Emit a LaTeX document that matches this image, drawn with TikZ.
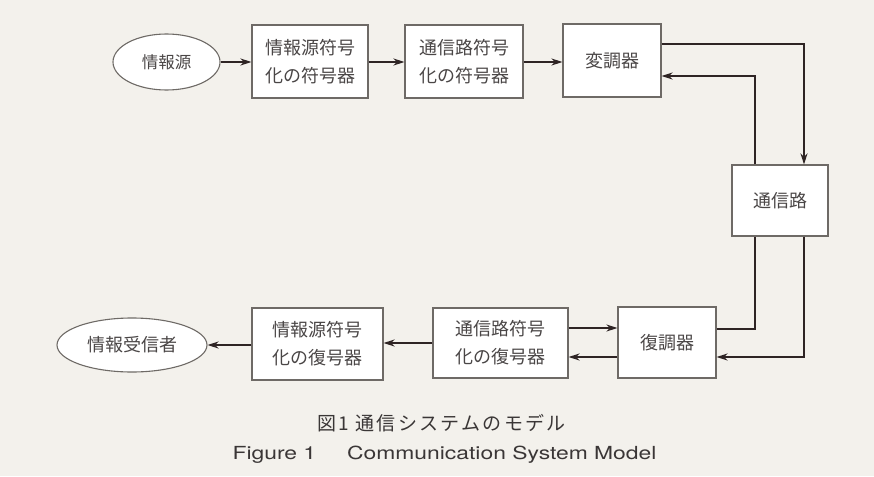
\documentclass[tikz,border=0pt]{standalone}
\usepackage{fontspec}
\setmainfont{TeX Gyre Heros}
\newfontfamily\jp{Noto Sans CJK JP}
\newfontfamily\jpcap[LetterSpace=12]{Noto Sans CJK JP}
\newfontfamily\capfont[FakeStretch=1.27]{TeX Gyre Heros}
\usetikzlibrary{arrows.meta,shapes.geometric}
\definecolor{bgcol}{HTML}{F3F1EC}
\definecolor{edgecol}{HTML}{6E6A66}
\definecolor{wirecol}{HTML}{2E2424}
\definecolor{txtcol}{HTML}{4A4646}
\definecolor{capcol}{HTML}{3A3636}
\tikzset{
  blk/.style={draw=edgecol, line width=1.1pt, fill=white, inner sep=0pt, align=center,
    text=txtcol, font=\jp\fontsize{18}{28}\selectfont},
  oval/.style={blk, ellipse},
  wire/.style={draw=wirecol, line width=1.8pt},
  arr/.style={wire, -{Stealth[length=11pt,width=7pt]}},
  captext/.style={text=capcol, inner sep=0pt},
}
\begin{document}
\begin{tikzpicture}[x=1pt,y=-1pt]
\fill[bgcol] (0,0) rectangle (874,476);
\useasboundingbox (0,0) rectangle (874,476);
% top row
\node[oval, minimum width=107pt, minimum height=56pt, font=\jp\fontsize{16.5}{20}\selectfont] (src) at (166.5,62) {情報源};
\node[blk, minimum width=116pt, minimum height=73pt] (enc1) at (310,61.5) {情報源符号\\化の符号器};
\node[blk, minimum width=118pt, minimum height=73pt] (enc2) at (464,61.5) {通信路符号\\化の符号器};
\node[blk, minimum width=98pt, minimum height=73pt] (mod) at (612,60.5) {変調器};
% channel
\node[blk, minimum width=96pt, minimum height=71pt] (ch) at (780,200.5) {通信路};
% bottom row
\node[blk, minimum width=98pt, minimum height=71pt] (dem) at (667,342.5) {復調器};
\node[blk, minimum width=135pt, minimum height=70pt] (dec2) at (500.5,343) {通信路符号\\化の復号器};
\node[blk, minimum width=131pt, minimum height=72pt] (dec1) at (317.5,344) {情報源符号\\化の復号器};
\node[oval, minimum width=150pt, minimum height=54pt] (sink) at (132,345) {情報受信者};
% connectors top
\draw[arr] (src.east) -- (src.east -| enc1.west);
\draw[arr] (enc1.east |- 0,62) -- (enc2.west |- 0,62);
\draw[arr] (enc2.east |- 0,62) -- (mod.west |- 0,62);
\draw[arr] (mod.east |- 0,44) -| (ch.north -| 804,0);
\draw[arr] (ch.north -| 755,0) |- (mod.east |- 0,76);
% connectors bottom
\draw[wire] (dem.east |- 0,329) -| (ch.south -| 755,0);
\draw[arr] (ch.south -| 804,0) |- (dem.east |- 0,357);
\draw[arr] (dec2.east |- 0,328) -- (dem.west |- 0,328);
\draw[arr] (dem.west |- 0,357) -- (dec2.east |- 0,357);
\draw[arr] (dec2.west |- 0,343) -- (dec1.east |- 0,343);
\draw[arr] (dec1.west |- 0,345) -- (sink.east);
% caption
\node[captext, font=\jpcap\fontsize{19}{19}\selectfont] (cap1) at (441.5,423) {図1 通信システムのモデル};
\node[captext, font=\capfont\fontsize{18}{18}\selectfont] (cap2) at (444.5,455) {Figure 1\hspace{31pt}Communication System Model};
\end{tikzpicture}
\end{document}
